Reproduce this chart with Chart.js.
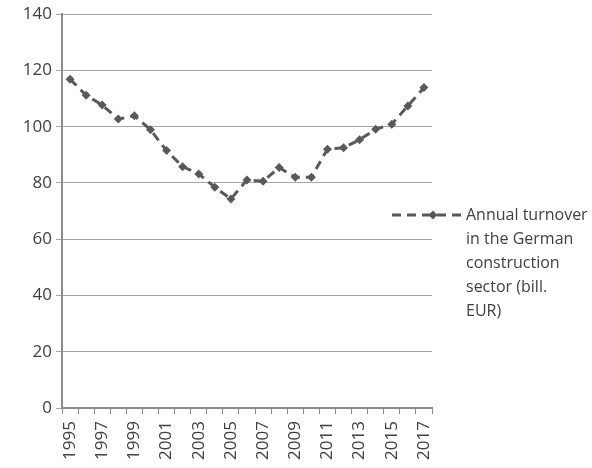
<!DOCTYPE html>
<html>
<head>
<meta charset="utf-8">
<script src="https://cdn.jsdelivr.net/npm/chart.js@4"></script>
<style>
  html, body { margin:0; padding:0; background:#fff; }
  #wrap { position:relative; width:592px; height:468px; }
  #legendText { position:absolute; left:466px; top:202px; font:16px "Open Sans", sans-serif; line-height:24px; color:#404040; white-space:nowrap; }
</style>
</head>
<body>
<div id="wrap">
  <canvas id="c" width="592" height="468"></canvas>
  <div id="legendText">Annual turnover<br>in the German<br>construction<br>sector (bill.<br>EUR)</div>
</div>
<script>
const years = ['1995','1996','1997','1998','1999','2000','2001','2002','2003','2004','2005','2006','2007','2008','2009','2010','2011','2012','2013','2014','2015','2016','2017'];
const turnover = [116.9, 111.2, 107.7, 102.7, 103.9, 98.9, 91.5, 85.8, 83.2, 78.5, 74.3, 81.1, 80.6, 85.5, 82.0, 82.0, 92.0, 92.5, 95.4, 99.1, 100.9, 107.4, 113.9];
const seriesName = 'Annual turnover in the German construction sector (bill. EUR)';
const yTicks = { min:0, max:140, step:20 };

const LINE = '#595959';
const TEXT = '#404040';
const GRID = '#a6a6a6';
const AXIS = '#8c8c8c';
const FONT = { family:'"Open Sans", sans-serif', size:17 };

// legend symbol drawn next to the html text
const legendSymbol = {
  id:'legendSymbol',
  afterDraw(chart){
    const ctx = chart.ctx;
    const y = 215, x0 = 392, x1 = 462;
    ctx.save();
    ctx.strokeStyle = LINE; ctx.lineWidth = 3; ctx.setLineDash([9,6]);
    ctx.beginPath(); ctx.moveTo(x0, y); ctx.lineTo(x1, y); ctx.stroke();
    ctx.setLineDash([]);
    ctx.fillStyle = LINE;
    const cx = 433, r = 4.5;
    ctx.beginPath(); ctx.moveTo(cx, y-r); ctx.lineTo(cx+r, y); ctx.lineTo(cx, y+r); ctx.lineTo(cx-r, y); ctx.closePath(); ctx.fill();
    ctx.restore();
  }
};

new Chart(document.getElementById('c'), {
  type:'line',
  data:{ labels:years, datasets:[{
    label:seriesName, data:turnover,
    borderColor:LINE, backgroundColor:LINE, borderWidth:3, borderDash:[9,6],
    pointStyle:'rectRot', pointRadius:4.5, pointBackgroundColor:LINE, pointBorderColor:LINE, pointBorderWidth:0,
    tension:0, fill:false
  }]},
  options:{
    responsive:false, animation:false,
    layout:{ padding:{ left:0, right:160, top:13, bottom:0 } },
    plugins:{ legend:{ display:false }, tooltip:{ enabled:false } },
    scales:{
      x:{
        offset:true,
        grid:{ drawOnChartArea:false, drawTicks:true, tickLength:6, offset:true, color:AXIS, lineWidth:1 },
        border:{ color:AXIS, width:2 },
        ticks:{ autoSkip:false, minRotation:90, maxRotation:90, color:TEXT, font:FONT, padding:7,
          callback(v, i){ return i % 2 === 0 ? this.getLabelForValue(v) : ''; } },
        afterFit(s){ s.height = 60; }
      },
      y:{
        min:yTicks.min, max:yTicks.max,
        grid:{ color:GRID, lineWidth:1, tickLength:6, drawTicks:true },
        border:{ color:AXIS, width:2 },
        ticks:{ stepSize:yTicks.step, color:TEXT, font:FONT, padding:4 },
        afterFit(s){ s.width = 62; }
      }
    }
  },
  plugins:[legendSymbol]
});
</script>
</body>
</html>
